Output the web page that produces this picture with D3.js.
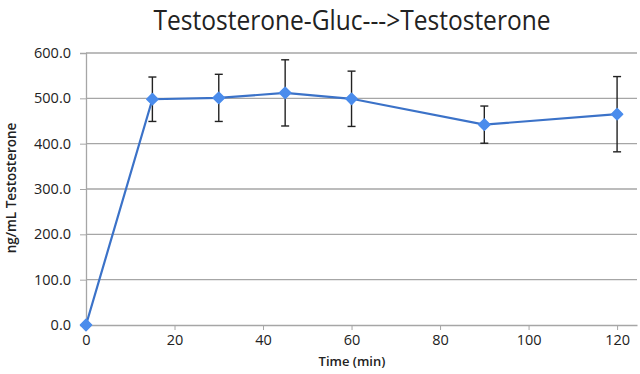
<!DOCTYPE html>
<html>
<head>
<meta charset="utf-8">
<script src="https://cdn.jsdelivr.net/npm/d3@7"></script>
<style>
  body { margin: 0; background: #fff; }
  text { font-family: "Open Sans", sans-serif; fill: #222; }
</style>
</head>
<body>
<div id="chart"></div>
<script>
// data
const times = [0, 15, 30, 45, 60, 90, 120];
const means = [0, 498, 501, 512, 499, 442, 465];
const errs = [0, 49, 52, 73, 61, 41, 83];
const xTicks = [0, 20, 40, 60, 80, 100, 120];
const yTicks = [0, 100, 200, 300, 400, 500, 600];

const width = 640;
const height = 374;
const margin = { top: 53, right: 3, bottom: 49, left: 86 };

const svg = d3.select("#chart")
    .append("svg")
    .attr("width", width)
    .attr("height", height);

const xScale = d3.scaleLinear()
    .domain([0, 124.5])
    .range([margin.left, width - margin.right]);

const yScale = d3.scaleLinear()
    .domain([0, 600])
    .range([height - margin.bottom, margin.top]);

// horizontal grid lines
svg.append("g")
    .selectAll("line")
    .data(yTicks.slice(1))
    .enter()
    .append("line")
    .attr("x1", margin.left)
    .attr("x2", width - margin.right)
    .attr("y1", d => yScale(d))
    .attr("y2", d => yScale(d))
    .attr("stroke", "#a6a6a6")
    .attr("stroke-width", 1.3);

// y axis
const yAxis = svg.append("g")
    .attr("transform", `translate(${margin.left},0)`)
    .call(d3.axisLeft(yScale).tickValues(yTicks).tickFormat(d3.format(".1f")).tickSize(6).tickPadding(9));
yAxis.select(".domain").attr("stroke", "#a6a6a6").attr("stroke-width", 1.3);
yAxis.selectAll(".tick line").attr("stroke", "#a6a6a6");
yAxis.selectAll("text").style("font-size", "14.5px").style("fill", "#222");

// x axis
const xAxis = svg.append("g")
    .attr("transform", `translate(0,${height - margin.bottom})`)
    .call(d3.axisBottom(xScale).tickValues(xTicks).tickSize(5).tickPadding(5).tickSizeOuter(0));
xAxis.select(".domain").attr("stroke", "#a6a6a6").attr("stroke-width", 1.3);
xAxis.selectAll(".tick line").attr("stroke", "#a6a6a6");
xAxis.selectAll("text").style("font-size", "14.5px").style("fill", "#222");

const points = times.map((t, i) => ({ t: t, m: means[i], e: errs[i] }));

// error bars
const bars = svg.append("g")
    .selectAll("g")
    .data(points.filter(d => d.e > 0))
    .enter()
    .append("g")
    .attr("stroke", "#222")
    .attr("stroke-width", 1.4);
bars.append("line")
    .attr("x1", d => xScale(d.t)).attr("x2", d => xScale(d.t))
    .attr("y1", d => yScale(d.m + d.e)).attr("y2", d => yScale(d.m - d.e));
bars.append("line")
    .attr("x1", d => xScale(d.t) - 4).attr("x2", d => xScale(d.t) + 4)
    .attr("y1", d => yScale(d.m + d.e)).attr("y2", d => yScale(d.m + d.e));
bars.append("line")
    .attr("x1", d => xScale(d.t) - 4).attr("x2", d => xScale(d.t) + 4)
    .attr("y1", d => yScale(d.m - d.e)).attr("y2", d => yScale(d.m - d.e));

// line
const line = d3.line()
    .x(d => xScale(d.t))
    .y(d => yScale(d.m));
svg.append("path")
    .datum(points)
    .attr("d", line)
    .attr("fill", "none")
    .attr("stroke", "#3b72c8")
    .attr("stroke-width", 2.2);

// markers
svg.append("g")
    .selectAll("path")
    .data(points)
    .enter()
    .append("path")
    .attr("transform", d => `translate(${xScale(d.t)},${yScale(d.m)})`)
    .attr("d", d3.symbol().type(d3.symbolDiamond2).size(80))
    .attr("fill", "#4a8cec")
    .attr("stroke", "#4a8cec")
    .attr("stroke-width", 1.5)
    .attr("stroke-linejoin", "round");

// titles
svg.append("text")
    .attr("x", 352)
    .attr("y", 30)
    .attr("text-anchor", "middle")
    .attr("textLength", 397)
    .attr("lengthAdjust", "spacingAndGlyphs")
    .style("font-size", "28px")
    .text("Testosterone-Gluc--->Testosterone");

svg.append("text")
    .attr("x", 352)
    .attr("y", 366)
    .attr("text-anchor", "middle")
    .style("font-size", "13px")
    .style("font-weight", "600")
    .text("Time (min)");

svg.append("text")
    .attr("transform", "translate(16,188) rotate(-90)")
    .attr("text-anchor", "middle")
    .style("font-size", "13.5px")
    .style("font-weight", "600")
    .text("ng/mL Testosterone");
</script>
</body>
</html>
